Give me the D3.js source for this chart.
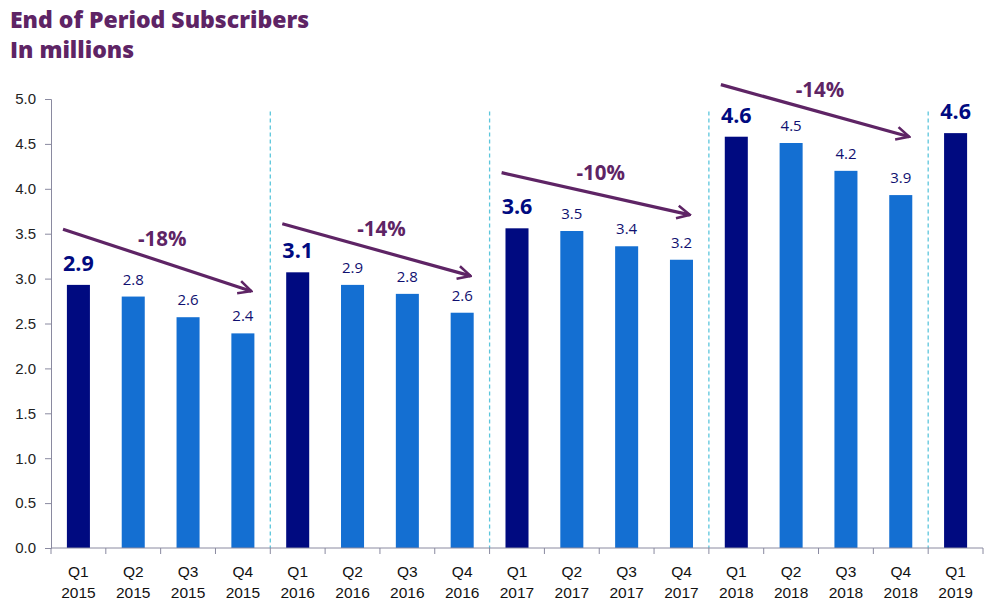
<!DOCTYPE html>
<html><head><meta charset="utf-8">
<script src="https://cdn.jsdelivr.net/npm/d3@7"></script>
<style>body{margin:0;background:#fff}svg{display:block}</style>
</head><body><svg id="c" width="998" height="615"></svg>
<script>
const quarters = ["Q1","Q2","Q3","Q4","Q1","Q2","Q3","Q4","Q1","Q2","Q3","Q4","Q1","Q2","Q3","Q4","Q1"];
const years = ["2015","2015","2015","2015","2016","2016","2016","2016","2017","2017","2017","2017","2018","2018","2018","2018","2019"];
const values = [2.93,2.80,2.57,2.39,3.07,2.93,2.83,2.62,3.56,3.53,3.36,3.21,4.58,4.51,4.20,3.93,4.62];
const labels = ["2.9","2.8","2.6","2.4","3.1","2.9","2.8","2.6","3.6","3.5","3.4","3.2","4.6","4.5","4.2","3.9","4.6"];
const yTicks = [0,0.5,1,1.5,2,2.5,3,3.5,4,4.5,5];
// trend annotations: start index, end index, start value, end value, label
const trendFrom = [0,4,8,12];
const trendTo = [3,7,11,15];
const trendY0 = [3.55,3.61,4.18,5.16];
const trendY1 = [2.86,3.03,3.71,4.58];
const trendLabels = ["-18%","-14%","-10%","-14%"];
const separators = [4,8,12,16];

const svg = d3.select("#c");
const keys = d3.range(values.length);
const x = d3.scaleBand().domain(keys).range([51,983]).paddingInner(0.58).paddingOuter(0.29);
const y = d3.scaleLinear().domain([0,5]).range([548,99]);
const step = x.step();
const bandStart = i => x(i) - x.paddingOuter()*step;  // band boundary left of category i

const purple = "#5e2465";
svg.append("text").attr("x",10).attr("y",28).attr("fill",purple)
  .attr("font-family","Open Sans").attr("font-weight",800).attr("font-size",23)
  .text("End of Period Subscribers");
svg.append("text").attr("x",10).attr("y",58).attr("fill",purple)
  .attr("font-family","Open Sans").attr("font-weight",800).attr("font-size",23)
  .text("In millions");

// separators
svg.selectAll("line.sep").data(separators).join("line")
  .attr("x1",d=>bandStart(d)).attr("x2",d=>bandStart(d))
  .attr("y1",y(4.86)).attr("y2",y(0))
  .attr("stroke","#5cc6dc").attr("stroke-width",1.3).attr("stroke-dasharray","4,3");

// bars
svg.selectAll("rect.bar").data(keys).join("rect")
  .attr("x",i=>x(i)).attr("width",x.bandwidth())
  .attr("y",i=>y(values[i])).attr("height",i=>y(0)-y(values[i]))
  .attr("fill",i=>quarters[i]==="Q1"?"#000a80":"#146fd2");

// value labels
svg.selectAll("text.val").data(keys).join("text")
  .attr("x",i=>x(i)+x.bandwidth()/2)
  .attr("y",i=>y(values[i])-(quarters[i]==="Q1"?14:12))
  .attr("text-anchor","middle")
  .attr("font-family","Open Sans")
  .attr("font-weight",i=>quarters[i]==="Q1"?700:400)
  .attr("font-size",i=>quarters[i]==="Q1"?21.5:15)
  .attr("fill",i=>quarters[i]==="Q1"?"#000a80":"#101070")
  .text(i=>labels[i]);

// axes
const yAxis = svg.append("g").attr("transform","translate(51,0)")
  .call(d3.axisLeft(y).tickValues(yTicks).tickFormat(d3.format(".1f")).tickSize(6).tickPadding(9));
yAxis.select(".domain").attr("stroke","#8a8aa0");
yAxis.selectAll(".tick line").attr("stroke","#8a8aa0");
yAxis.selectAll("text").attr("font-family","Liberation Sans").attr("font-size",15).attr("fill","#222");

const g = svg.append("g");
g.append("line").attr("x1",51).attr("x2",983).attr("y1",y(0)).attr("y2",y(0)).attr("stroke","#8a8aa0");
g.selectAll("line.xt").data(d3.range(values.length+1)).join("line")
  .attr("x1",i=>51+i*step).attr("x2",i=>51+i*step).attr("y1",y(0)).attr("y2",y(0)+6).attr("stroke","#8a8aa0");
const xl = g.selectAll("text.xl").data(keys).join("text")
  .attr("text-anchor","middle").attr("font-family","Liberation Sans").attr("font-size",15.5).attr("fill","#111")
  .attr("x",i=>x(i)+x.bandwidth()/2);
xl.append("tspan").attr("x",i=>x(i)+x.bandwidth()/2).attr("y",577).text(i=>quarters[i]);
xl.append("tspan").attr("x",i=>x(i)+x.bandwidth()/2).attr("y",598).text(i=>years[i]);

// arrows
const defs = svg.append("defs");
defs.append("marker").attr("id","ah").attr("viewBox","0 0 10 10").attr("refX",9).attr("refY",5)
  .attr("markerWidth",5).attr("markerHeight",5).attr("orient","auto").attr("markerUnits","strokeWidth")
  .append("path").attr("d","M1,1 L9,5 L1,9").attr("fill","none").attr("stroke",purple).attr("stroke-width",1.6).attr("stroke-linejoin","miter");
trendFrom.forEach((f,k)=>{
  const x0 = bandStart(f)+12, x1 = bandStart(trendTo[k]+1)-19;
  const y0 = y(trendY0[k]), y1 = y(trendY1[k]);
  svg.append("line").attr("x1",x0).attr("y1",y0).attr("x2",x1).attr("y2",y1)
    .attr("stroke",purple).attr("stroke-width",3.2).attr("marker-end","url(#ah)");
  svg.append("text").attr("x",(x0+x1)/2+5).attr("y",(y0+y1)/2-14)
    .attr("text-anchor","middle").attr("font-family","Open Sans").attr("font-weight",700)
    .attr("font-size",20.5).attr("fill",purple).text(trendLabels[k]);
});
</script></body></html>
